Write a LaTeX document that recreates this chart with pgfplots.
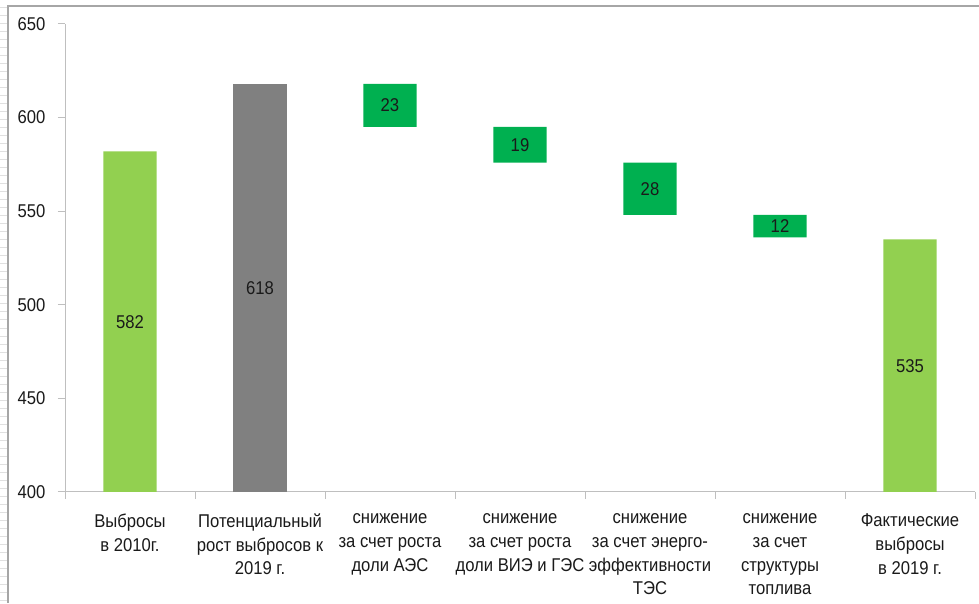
\documentclass[border=0pt]{standalone}
\usepackage{pgfplots}
\pgfplotsset{compat=1.18}
\usepackage{fontspec}
\setmainfont{Liberation Sans}[FakeStretch=0.9]

\definecolor{lightgreen}{HTML}{92D050}
\definecolor{darkgreen}{HTML}{00B050}
\definecolor{bargray}{HTML}{808080}
\definecolor{axisgray}{HTML}{BFBFBF}
\definecolor{framegray}{HTML}{A6A6A6}
\definecolor{textgray}{HTML}{1A1A1A}

\tikzset{vallabel/.style={font=\fontsize{18.5}{22}\selectfont, text=textgray}}

\begin{document}
\begin{tikzpicture}[x=1pt,y=1pt]
\useasboundingbox (0,0) rectangle (979,603);
\fill[white] (0,0) rectangle (979,603);
% outer frame and ruler marks on the left margin
\foreach \y in {3,11,...,600} \draw[black!12, line width=1pt] (0,\y) -- (7,\y);
\draw[framegray, line width=1.5pt] (8,0) -- (8,597) -- (979,597);
\begin{axis}[
  at={(65pt,111pt)}, anchor=south west,
  scale only axis, width=910pt, height=468pt,
  ybar stacked, bar width=0.41,
  xmin=-0.5, xmax=6.5, ymin=400, ymax=650,
  axis lines*=left,
  axis line style={draw=axisgray, line width=1pt},
  tick style={draw=axisgray, line width=1pt},
  tick align=outside, major tick length=7pt,
  ytick={400,450,...,650},
  /pgf/number format/assume math mode=true,
  yticklabel style={font=\fontsize{18.5}{22}\selectfont, text=textgray, xshift=-9pt},
  xtick={-0.5,0.5,...,6.5}, xticklabels={},
  extra x ticks={0,1,2,3,4,5,6},
  extra x tick labels={
    {Выбросы\\в 2010г.},
    {Потенциальный\\рост выбросов к\\2019 г.},
    {снижение\\за счет роста\\доли АЭС},
    {снижение\\за счет роста\\доли ВИЭ и ГЭС},
    {снижение\\за счет энерго-\\эффективности\\ТЭС},
    {снижение\\за счет\\структуры\\топлива},
    {Фактические\\выбросы\\в 2019 г.}},
  extra x tick style={tick style={draw=none},
    xticklabel style={align=center, anchor=north, font=\fontsize{18.5}{23.6}\selectfont, text=textgray, yshift=-11.5pt}},
]
% invisible base of the floating bars
\addplot[fill=none, draw=none] coordinates {(0,0) (1,0) (2,595) (3,576) (4,548) (5,536) (6,0)};
% start and end emissions
\addplot[fill=lightgreen, draw=none] coordinates {(0,582) (1,0) (2,0) (3,0) (4,0) (5,0) (6,535)};
% potential growth
\addplot[fill=bargray, draw=none] coordinates {(0,0) (1,618) (2,0) (3,0) (4,0) (5,0) (6,0)};
% reductions
\addplot[fill=darkgreen, draw=none] coordinates {(0,0) (1,0) (2,23) (3,19) (4,28) (5,12) (6,0)};
% anchors for the value labels (middle of each visible bar)
\coordinate (v0) at (axis cs:0,491);
\coordinate (v1) at (axis cs:1,509);
\coordinate (v2) at (axis cs:2,606.5);
\coordinate (v3) at (axis cs:3,585.5);
\coordinate (v4) at (axis cs:4,562);
\coordinate (v5) at (axis cs:5,542);
\coordinate (v6) at (axis cs:6,467.5);
\end{axis}
% value labels, set above the bars
\node[vallabel] at (v0) {582};
\node[vallabel] at (v1) {618};
\node[vallabel] at (v2) {23};
\node[vallabel] at (v3) {19};
\node[vallabel] at (v4) {28};
\node[vallabel] at (v5) {12};
\node[vallabel] at (v6) {535};
\end{tikzpicture}
\end{document}
